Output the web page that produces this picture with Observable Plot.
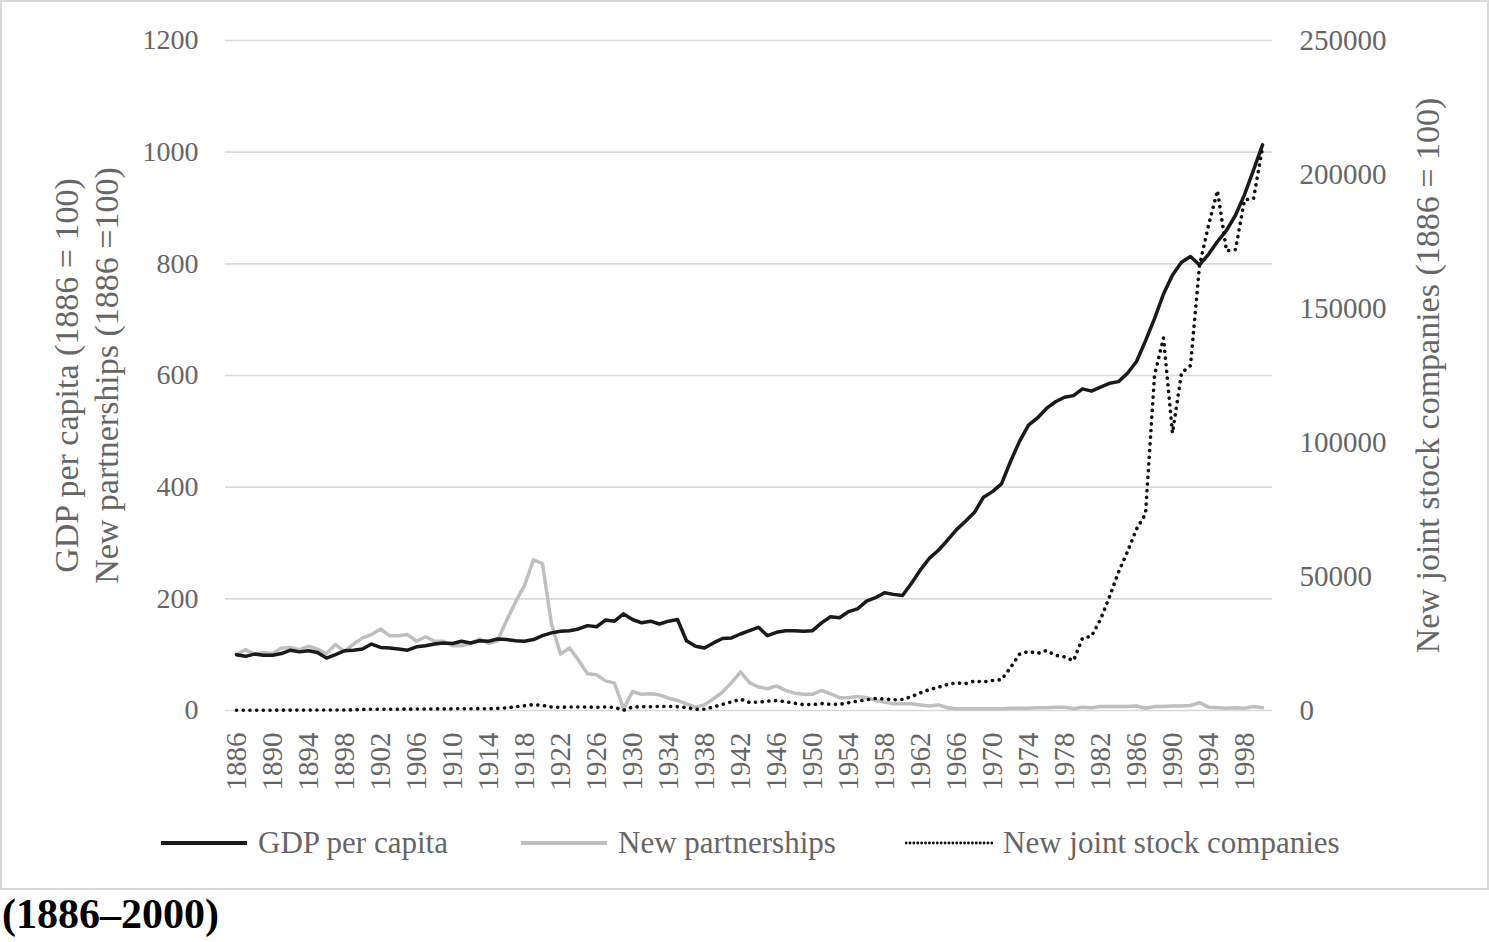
<!DOCTYPE html>
<html><head><meta charset="utf-8">
<script src="https://cdn.jsdelivr.net/npm/d3@7"></script>
<script src="https://cdn.jsdelivr.net/npm/@observablehq/plot@0.6"></script>
<style>
body{margin:0;background:#fff;font-family:"Liberation Serif","Times New Roman",serif;}
#wrap{position:relative;width:1489px;height:942px;overflow:hidden;}
#frame{position:absolute;left:0;top:0;width:1489px;height:890px;border:2px solid #d9d9d9;box-sizing:border-box;pointer-events:none;}
#chart{position:absolute;left:0;top:0;}
.leg{position:absolute;top:822px;height:42px;display:flex;align-items:center;font-size:31px;color:#666;white-space:nowrap;}
.leg svg{margin-right:10px;}
#caption{position:absolute;left:2px;top:893px;font-size:42px;line-height:1;font-weight:bold;color:#000;}
</style></head>
<body><div id="wrap"><div id="chart"></div><div id="legend"></div><div id="frame"></div><div id="caption">(1886–2000)</div></div>
<script>
const years = d3.range(1886, 2001);
const xTickYears = [1886,1890,1894,1898,1902,1906,1910,1914,1918,1922,1926,1930,1934,1938,1942,1946,1950,1954,1958,1962,1966,1970,1974,1978,1982,1986,1990,1994,1998];
const leftTicks = [0,200,400,600,800,1000,1200];
const rightTicks = [0,50000,100000,150000,200000,250000];

const gdpPerCapita = [
 100, 97, 101, 99, 99, 102, 108, 105, 107, 104,
 94, 100, 107, 108, 110, 119, 113, 112, 110, 108,
 114, 116, 119, 121, 120, 124, 121, 125, 124, 128,
 127, 125, 124, 127, 134, 139, 142, 143, 146, 152,
 150, 162, 160, 173, 163, 157, 160, 155, 160, 163,
 125, 115, 112, 121, 129, 130, 137, 143, 149, 134,
 140, 143, 143, 142, 143, 157, 168, 166, 177, 182,
 196, 202, 211, 208, 206, 228, 252, 273, 287, 305,
 324, 339, 355, 382, 392, 406, 446, 482, 511, 524,
 541, 553, 561, 564, 576, 572, 579, 586, 589, 604,
 625, 662, 702, 746, 780, 803, 813, 798, 817, 840,
 860, 887, 924, 968, 1013
];
const newPartnerships = [
 100, 109, 101, 104, 102, 112, 113, 109, 115, 110,
 102, 118, 106, 119, 130, 136, 146, 134, 134, 136,
 124, 132, 124, 124, 116, 116, 120, 128, 120, 125,
 161, 194, 224, 270, 263, 155, 101, 112, 90, 66,
 64, 53, 49, 3, 34, 29, 30, 28, 22, 18,
 12, 6, 10, 21, 33, 50, 69, 50, 42, 39,
 44, 36, 31, 29, 29, 36, 30, 23, 23, 25,
 23, 18, 15, 12, 12, 12, 10, 8, 10, 5,
 3, 3, 3, 3, 3, 3, 4, 4, 4, 5,
 5, 6, 6, 3, 6, 5, 7, 7, 7, 7,
 8, 4, 7, 7, 8, 8, 9, 14, 6, 5,
 4, 5, 4, 7, 5
];
const newJointStock = [
 100, 100, 110, 120, 120, 130, 140, 150, 150, 160,
 170, 180, 200, 250, 400, 500, 450, 450, 500, 500,
 550, 550, 600, 600, 600, 650, 650, 700, 650, 800,
 1000, 1400, 1800, 2200, 1900, 1300, 1200, 1300, 1300, 1300,
 1200, 1300, 1200, 100, 1300, 1400, 1400, 1500, 1500, 1400,
 1100, 400, 500, 1300, 2300, 3200, 4200, 3000, 3100, 3500,
 3700, 3300, 2700, 2200, 2200, 2600, 2300, 2300, 2900, 3500,
 4000, 4500, 4300, 4000, 4100, 5200, 6600, 7800, 8700, 9700,
 10300, 10000, 11000, 10700, 11200, 11500, 16000, 21000, 22000, 21300,
 22400, 20600, 20000, 18600, 27000, 27700, 34000, 42500, 51600, 59300,
 67700, 73300, 125000, 139000, 103500, 126000, 128700, 166000, 181000, 194000,
 171500, 172000, 190500, 191000, 210000
];
const seriesNames = ["GDP per capita", "New partnerships", "New joint stock companies"];
const leftTitle1 = "GDP per capita (1886 = 100)";
const leftTitle2 = "New partnerships (1886 =100)";
const rightTitle = "New joint stock companies (1886 = 100)";

const k = 1200 / 250000; // secondary axis mapping
const data = years.map((year, i) => ({year, gdp: gdpPerCapita[i], part: newPartnerships[i], jsc: newJointStock[i]}));
const txt = "#666666";

const chart = Plot.plot({
  width: 1489, height: 800,
  marginLeft: 225, marginRight: 217, marginTop: 40, marginBottom: 90,
  style: {fontFamily: '"Liberation Serif", "Times New Roman", serif', background: "transparent", color: txt},
  x: {type: "point", domain: years, padding: 0.5},
  y: {domain: [0, 1200]},
  marks: [
    Plot.gridY({ticks: leftTicks, stroke: "#d9d9d9", strokeOpacity: 1, strokeWidth: 1.6}),
    Plot.axisY({ticks: leftTicks, anchor: "left", tickSize: 0, tickPadding: 27, fontSize: 28, fill: txt, tickFormat: d => String(d), label: null}),
    Plot.axisY({ticks: rightTicks.map(v => v * k), anchor: "right", tickSize: 0, tickPadding: 27, fontSize: 29, fill: txt, tickFormat: d => String(Math.round(d / k)), label: null}),
    Plot.axisX({ticks: xTickYears, tickRotate: -90, tickSize: 0, tickPadding: 22, fontSize: 29, fill: txt, tickFormat: d => String(d), label: null}),
    Plot.line(data, {x: "year", y: "part", stroke: "#bfbfbf", strokeWidth: 3.5}),
    Plot.line(data, {x: "year", y: "gdp", stroke: "#1a1a1a", strokeWidth: 3.5}),
    Plot.line(data, {x: "year", y: d => d.jsc * k, stroke: "#111", strokeWidth: 3.6, strokeDasharray: "0.1 6.6", strokeLinecap: "round"}),
    Plot.text([leftTitle1], {frameAnchor: "left", dx: -158, rotate: -90, textAnchor: "middle", fontSize: 34, fill: txt, text: d => d}),
    Plot.text([leftTitle2], {frameAnchor: "left", dx: -118, rotate: -90, textAnchor: "middle", fontSize: 34, fill: txt, text: d => d}),
    Plot.text([rightTitle], {frameAnchor: "right", dx: 156, rotate: -90, textAnchor: "middle", fontSize: 34, fill: txt, text: d => d})
  ]
});
document.getElementById("chart").appendChild(chart);

// legend
const legendPos = [160, 520, 905];
const legendStyles = [
  {stroke: "#1a1a1a", width: 4, dash: null},
  {stroke: "#bfbfbf", width: 4, dash: null},
  {stroke: "#111", width: 2.8, dash: "0.1 3.8"}
];
const legend = document.getElementById("legend");
seriesNames.forEach((name, i) => {
  const div = document.createElement("div");
  div.className = "leg";
  div.style.left = legendPos[i] + "px";
  const s = legendStyles[i];
  div.innerHTML = `<svg width="88" height="12"><line x1="1" x2="87" y1="6" y2="6" stroke="${s.stroke}" stroke-width="${s.width}" ${s.dash ? `stroke-dasharray="${s.dash}" stroke-linecap="round"` : ""}/></svg><span>${name}</span>`;
  legend.appendChild(div);
});
</script>
</body></html>
